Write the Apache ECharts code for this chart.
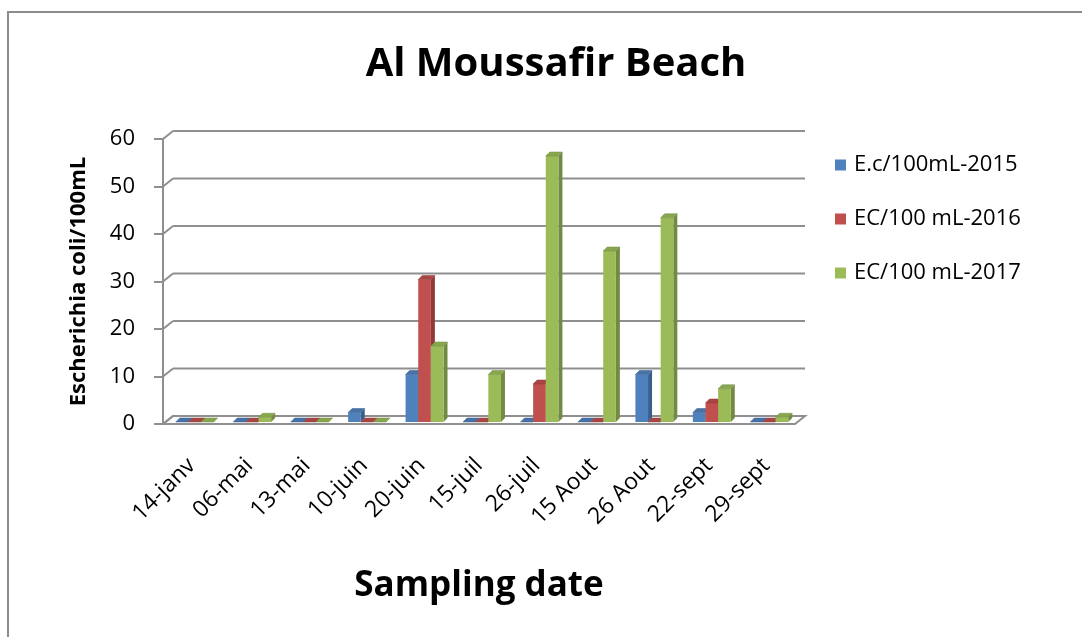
<!DOCTYPE html>
<html>
<head>
<meta charset="utf-8">
<title>Al Moussafir Beach</title>
<script src="https://cdn.jsdelivr.net/npm/echarts@6/dist/echarts.min.js"></script>
<style>
  html, body { margin: 0; padding: 0; background: #ffffff; }
  #chart { width: 1082px; height: 637px; }
</style>
</head>
<body>
<div id="chart"></div>
<script>
// Sampling dates and E. coli counts per 100 mL for each season
const categories = ['14-janv', '06-mai', '13-mai', '10-juin', '20-juin', '15-juil',
                    '26-juil', '15 Aout', '26 Aout', '22-sept', '29-sept'];
const seriesNames = ['E.c/100mL-2015', 'EC/100 mL-2016', 'EC/100 mL-2017'];
const values2015 = [0, 0, 0, 2, 10, 0, 0, 0, 10, 2, 0];
const values2016 = [0, 0, 0, 0, 30, 0, 8, 0, 0, 4, 0];
const values2017 = [0, 1, 0, 0, 16, 10, 56, 36, 43, 7, 1];
const yTicks = [0, 10, 20, 30, 40, 50, 60];

// face colours: front, side, top
const palette = [
  { front: '#4F81BD', side: '#3A5F8C', top: '#4672A8' },
  { front: '#C0504D', side: '#8D3A38', top: '#A94643' },
  { front: '#9BBB59', side: '#728A41', top: '#88A64E' }
];

const FONT = '"Open Sans", Lato, sans-serif';
const GRID_COLOR = '#8f8f8f';
const WALL = [10, -8];   // depth of the back wall
const BAR_DEPTH = [4, -4];
const BAR_SHIFT = [3, -2];

// back wall, side wall ticks and floor, positioned through the value axis
function renderFrame(params, api) {
  const v = api.value(0);
  const cs = params.coordSys;
  const x0 = cs.x, x1 = cs.x + cs.width;
  const y = api.coord([0, v])[1];
  const children = [];
  if (v === 0) {
    children.push({
      type: 'polygon',
      shape: { points: [[x0, y], [x0 + WALL[0], y + WALL[1]], [x1 + WALL[0], y + WALL[1]], [x1, y]] },
      style: { fill: '#ffffff', stroke: GRID_COLOR, lineWidth: 2 }
    });
  } else {
    children.push({
      type: 'line',
      shape: { x1: x0 + WALL[0], y1: y + WALL[1], x2: x1 + WALL[0], y2: y + WALL[1] },
      style: { stroke: GRID_COLOR, lineWidth: 2 }
    });
  }
  children.push({
    type: 'line',
    shape: { x1: x0, y1: y, x2: x0 + WALL[0], y2: y + WALL[1] },
    style: { stroke: GRID_COLOR, lineWidth: 2 }
  });
  return { type: 'group', children: children };
}

// one 3D bar: front face, right side face and top face
function makeBarRenderer(k) {
  const col = palette[k];
  return function (params, api) {
    const idx = api.value(0);
    const val = api.value(1);
    const band = api.size([1, 0])[0];
    const bw = band * 0.22;
    const base = api.coord([idx, 0]);
    const top = api.coord([idx, val]);
    const x = base[0] - 1.5 * bw + k * bw + BAR_SHIFT[0];
    const yb = base[1] + BAR_SHIFT[1];
    const yt = top[1] + BAR_SHIFT[1];
    const dx = BAR_DEPTH[0], dy = BAR_DEPTH[1];
    return {
      type: 'group',
      children: [
        {
          type: 'polygon',
          shape: { points: [[x + bw, yt], [x + bw + dx, yt + dy], [x + bw + dx, yb + dy], [x + bw, yb]] },
          style: { fill: col.side }
        },
        {
          type: 'rect',
          shape: { x: x, y: yt, width: bw, height: Math.max(yb - yt, 0) },
          style: { fill: col.front }
        },
        {
          type: 'polygon',
          shape: { points: [[x, yt], [x + dx, yt + dy], [x + bw + dx, yt + dy], [x + bw, yt]] },
          style: { fill: col.top, stroke: col.side, lineWidth: 0.5 }
        }
      ]
    };
  };
}

const seriesData = [values2015, values2016, values2017];

const chart = echarts.init(document.getElementById('chart'), null, { renderer: 'canvas' });

const option = {
  backgroundColor: '#ffffff',
  animation: false,
  title: {
    text: 'Al Moussafir Beach',
    left: 551,
    top: 40,
    textAlign: 'center',
    textStyle: { fontFamily: FONT, fontWeight: 'bold', fontSize: 40, color: '#000000' }
  },
  legend: {
    orient: 'vertical',
    left: 830,
    top: 149,
    itemWidth: 11,
    itemHeight: 11,
    itemGap: 32,
    icon: 'rect',
    data: seriesNames,
    textStyle: { fontFamily: FONT, fontSize: 22, color: '#000000', padding: [0, 0, 0, 3] }
  },
  grid: { left: 163, right: 287, top: 139, bottom: 213, containLabel: false },
  xAxis: {
    type: 'category',
    data: categories,
    axisLine: { show: false },
    axisTick: { show: false },
    axisLabel: {
      rotate: 45,
      interval: 0,
      margin: 38,
      fontFamily: FONT,
      fontSize: 23,
      color: '#000000'
    },
    name: 'Sampling date',
    nameLocation: 'middle',
    nameGap: 145,
    nameTextStyle: { fontFamily: FONT, fontWeight: 'bold', fontSize: 35, color: '#000000' }
  },
  yAxis: {
    type: 'value',
    min: 0,
    max: 60,
    interval: 10,
    axisLine: { show: true, lineStyle: { color: GRID_COLOR, width: 2 } },
    axisTick: { show: true, length: 9, lineStyle: { color: GRID_COLOR, width: 2 } },
    splitLine: { show: false },
    axisLabel: { margin: 28, fontFamily: FONT, fontSize: 22, color: '#000000' },
    name: 'Escherichia coli/100mL',
    nameLocation: 'middle',
    nameRotate: 90,
    nameGap: 73,
    nameTextStyle: { fontFamily: FONT, fontWeight: 'bold', fontSize: 22, color: '#000000' }
  },
  graphic: [{
    type: 'rect',
    shape: { x: 8, y: 12, width: 1200, height: 800 },
    style: { fill: 'none', stroke: '#8c8c8c', lineWidth: 2 },
    silent: true,
    z: -1
  }],
  series: [
    {
      type: 'custom',
      name: 'frame',
      renderItem: renderFrame,
      data: yTicks.map(function (v) { return [v]; }),
      encode: { y: 0 },
      silent: true,
      z: 1
    }
  ].concat(seriesData.map(function (vals, k) {
    return {
      type: 'custom',
      name: seriesNames[k],
      renderItem: makeBarRenderer(k),
      itemStyle: { color: palette[k].front },
      data: vals.map(function (v, i) { return [i, v]; }),
      encode: { x: 0, y: 1 },
      z: 2
    };
  }))
};

chart.setOption(option);
</script>
</body>
</html>
